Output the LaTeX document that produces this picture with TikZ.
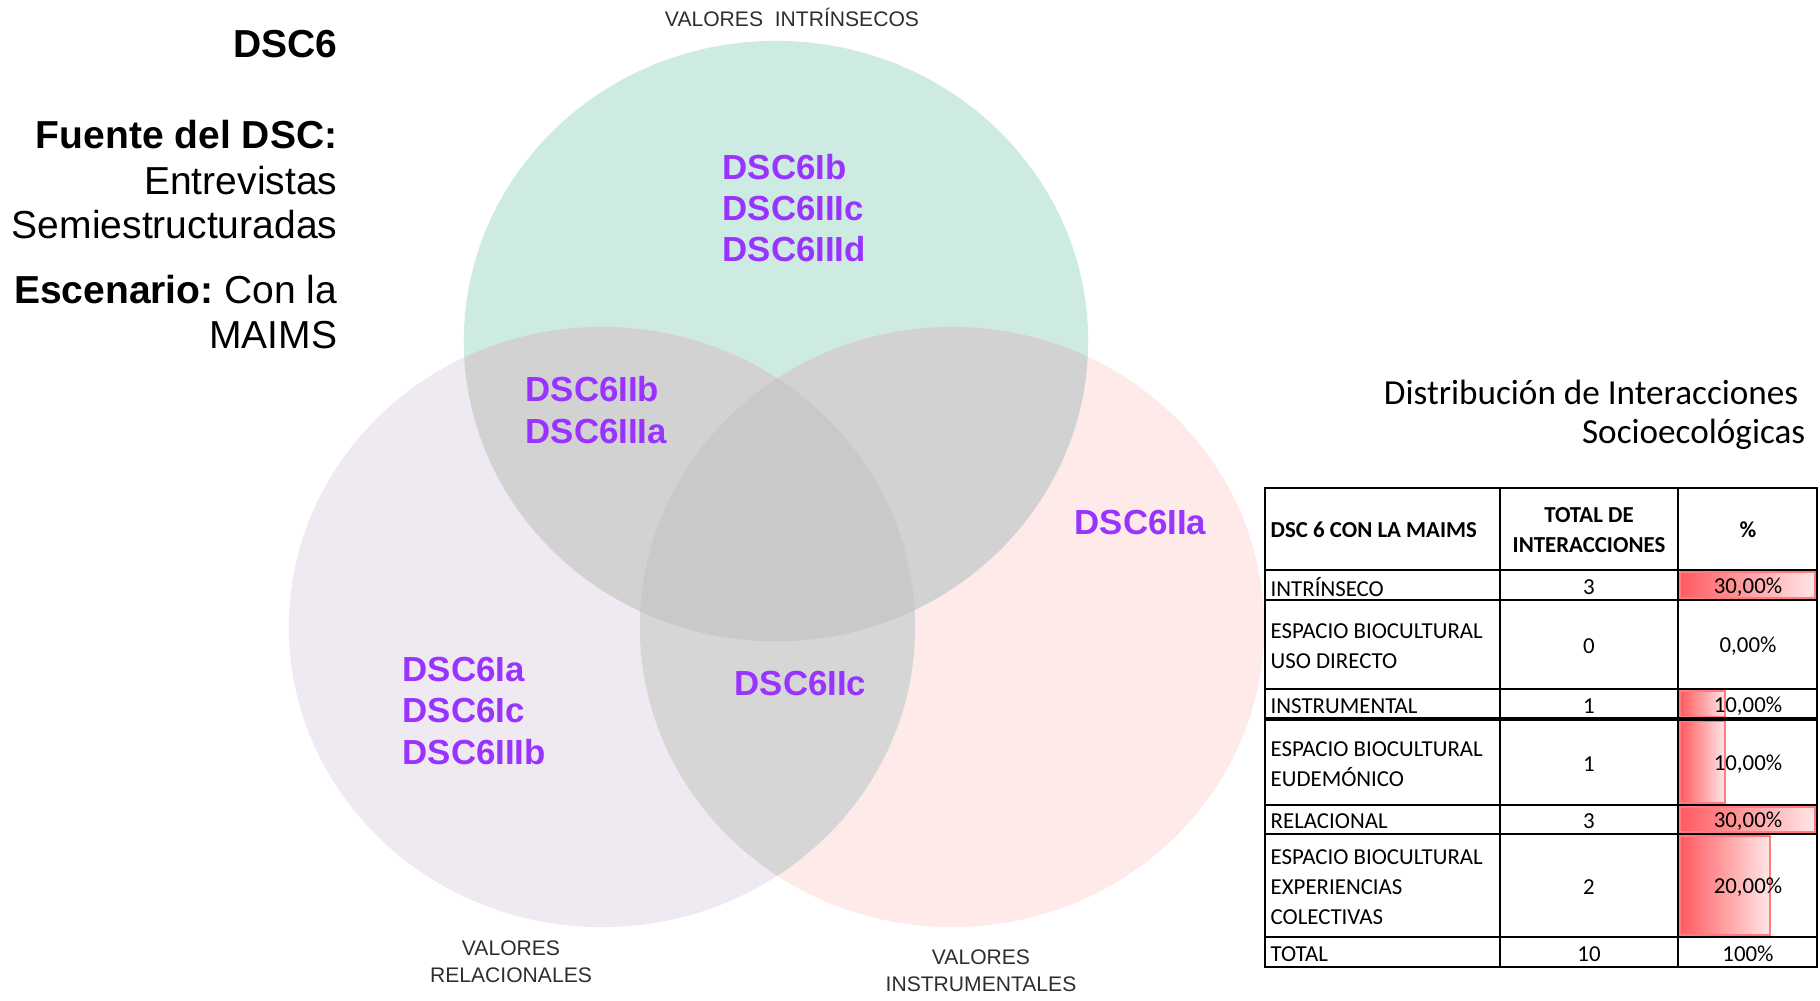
\documentclass[tikz,border=0pt]{standalone}
\usepackage{fontspec}
\setmainfont{Liberation Sans}
\newfontfamily\calibri{Carlito}

\definecolor{intrgreen}{HTML}{CDEBE3}
\definecolor{relalila}{HTML}{EFEAF1}
\definecolor{instrrosa}{HTML}{FEEAE8}
\definecolor{cruce}{HTML}{D2D2D2}
\definecolor{cruceb}{HTML}{D6D6D6}
\definecolor{nucleo}{HTML}{C9C9C9}
\definecolor{dscviolet}{HTML}{9933FF}
\definecolor{rotulo}{HTML}{2E2E2E}
\definecolor{barred}{HTML}{FF5A5F}
\definecolor{barpale}{HTML}{FFE6E7}
\definecolor{barline}{HTML}{FF7C80}

% the three value sets
\def\intrcirc{(776,341) ellipse [x radius=3.12cm, y radius=3cm]}
\def\relacirc{(602,627) ellipse [x radius=3.13cm, y radius=3cm]}
\def\instrcirc{(952,627) ellipse [x radius=3.12cm, y radius=3cm]}

\begin{document}
\frenchspacing
\begin{tikzpicture}[
		x=0.01cm, y=-0.01cm,
		hdr/.style={
			anchor=base east,
			inner sep=0,
			font=\fontsize{11.1}{13}\selectfont
		},
		dsc/.style={
			anchor=west,
			inner sep=0,
			align=left,
			text=dscviolet,
			font=\fontsize{9.9}{11.7}\selectfont\bfseries
		},
		eje/.style={
			inner sep=0,
			align=center,
			text=rotulo,
			font=\fontsize{6}{7.6}\selectfont
		},
		celda/.style={
			inner sep=0,
			font=\calibri\fontsize{6.5}{8.5}\selectfont
		},
		celdab/.style={
			celda,
			align=center,
			font=\calibri\bfseries\fontsize{6.5}{8.5}\selectfont
		},
		barra/.style={
			left color=barred,
			right color=barpale,
			draw=barline,
			line width=0.4pt
		}
	]
	\useasboundingbox (0,0) rectangle (1820,1001);
	
	% circles
	\fill[intrgreen] \intrcirc;
	\fill[relalila] \relacirc;
	\fill[instrrosa] \instrcirc;
	% overlaps
	\begin{scope}
		\clip \relacirc;
		\fill[cruceb] \instrcirc;
	\end{scope}
	\begin{scope}
		\clip \intrcirc;
		\fill[cruce] \relacirc;
		\fill[cruce] \instrcirc;
	\end{scope}
	\begin{scope}
		\clip \intrcirc;
		\clip \relacirc;
		\fill[nucleo] \instrcirc;
	\end{scope}
	
	% heading on the left
	\node[hdr] (titulo) at (338,58) {\textbf{DSC6}};
	\node[hdr] (fuente) at (338,149) {\textbf{Fuente del DSC:}};
	\node[hdr] (entrev) at (338,195) {Entrevistas};
	\node[hdr] (semi) at (338,239) {Semiestructuradas};
	\node[hdr] (escen) at (338,304) {\textbf{Escenario:} Con la};
	\node[hdr] (maims) at (338,349) {MAIMS};
	
	% discourse codes
	\node[dsc] (soloI) at (722,208) {DSC6Ib\\DSC6IIIc\\DSC6IIId};
	\node[dsc] (IyR) at (525,410) {DSC6IIb\\DSC6IIIa};
	\node[dsc] (soloN) at (1074,523) {DSC6IIa};
	\node[dsc] (soloR) at (402,711) {DSC6Ia\\DSC6Ic\\DSC6IIIb};
	\node[dsc] (RyN) at (734,684) {DSC6IIc};
	
	% set labels
	\node[eje] (ejeI) at (792,17) {VALORES\ \ INTRÍNSECOS};
	\node[eje] (ejeR) at (511,962) {VALORES\\RELACIONALES};
	\node[eje] (ejeN) at (981,971) {VALORES\\INSTRUMENTALES};
	
	% table title
	\node[anchor=east, inner sep=0, font=\calibri\fontsize{10}{12}\selectfont] (distA) at (1799,392) {Distribución de Interacciones};
	\node[anchor=east, inner sep=0, font=\calibri\fontsize{10}{12}\selectfont] (distB) at (1806,434) {Socioecológicas};
	
	% data bars
	\foreach \ya/\yb/\xb in {572/598/1815, 691/717/1725, 721/803/1725, 807/832/1815, 836/935/1770}
		\path[barra] (1680,\ya) rectangle (\xb,\yb);
	
	% grid
	\foreach \y in {570,600,689,805,834,937}
		\draw[line width=0.55pt] (1265,\y) -- (1817,\y);
	\draw[line width=0.9pt] (1265,719) -- (1817,719);
	\foreach \x in {1500,1678}
		\draw[line width=0.55pt] (\x,488) -- (\x,967);
	\draw[line width=0.8pt] (1265,488) rectangle (1817,967);
	
	% table text
	\node[celdab, anchor=west] (cab1) at (1270,530) {DSC 6 CON LA MAIMS};
	\node[celdab] (cab2) at (1589,530) {TOTAL DE\\INTERACCIONES};
	\node[celdab] (cab3) at (1748,530) {\%};
	\foreach \yc/\lab/\num/\pct [count=\i] in {
		587/{INTRÍNSECO}/3/{30,00\%},
		646.5/{ESPACIO BIOCULTURAL\\USO DIRECTO}/0/{0,00\%},
		706/{INSTRUMENTAL}/1/{10,00\%},
		764/{ESPACIO BIOCULTURAL\\EUDEMÓNICO}/1/{10,00\%},
		821.5/{RELACIONAL}/3/{30,00\%},
		887.5/{ESPACIO BIOCULTURAL\\EXPERIENCIAS\\COLECTIVAS}/2/{20,00\%},
		954/{TOTAL}/10/{100\%}
	}{
		\node[celda, anchor=west, align=left] (cat\i) at (1270,\yc) {\lab};
		\node[celda] (num\i) at (1589,\yc) {\num};
		\node[celda] (pct\i) at (1748,\yc) {\pct};
	}
\end{tikzpicture}
\end{document}
